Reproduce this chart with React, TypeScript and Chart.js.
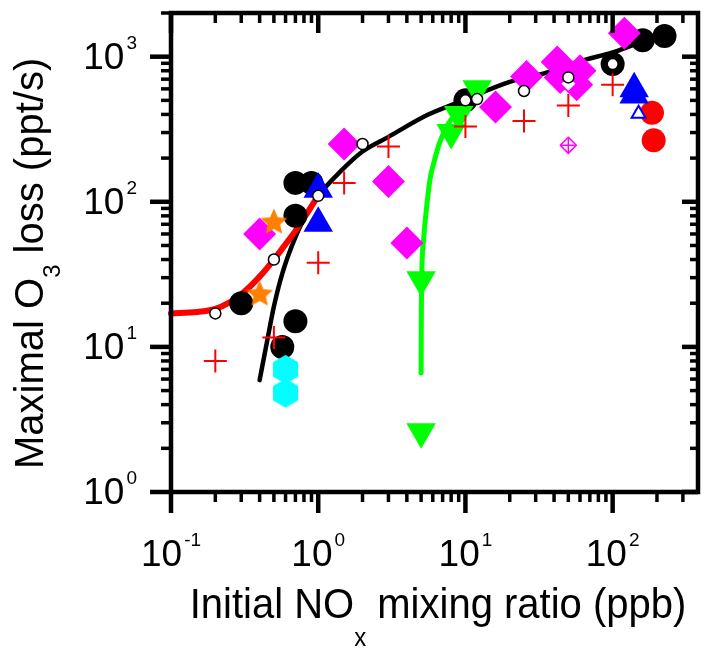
import React, { useEffect, useRef } from "react";
import { Chart, registerables } from "chart.js";

Chart.register(...registerables);

// ---------- axes ----------
const xRange = [0.1, 380];
const yRange = [1, 2000];
const xMajorTicks = [0.1, 1, 10, 100];
const xTickExponents = ["-1", "0", "1", "2"];
const yMajorTicks = [1, 10, 100, 1000];
const yTickExponents = ["0", "1", "2", "3"];
const minorMultipliers = [2, 3, 4, 5, 6, 7, 8, 9];

// ---------- marker series ----------
const blackCircleX = [0.3, 0.57, 0.7, 0.7, 0.7, 0.9, 10, 50, 100, 160, 225];
const blackCircleY = [20, 10, 15, 80, 135, 135, 500, 710, 890, 1300, 1390];

const whiteCircleX = [0.2, 0.5, 1, 2, 10, 12, 25, 50, 100];
const whiteCircleY = [17, 40, 110, 250, 500, 510, 580, 720, 890];

const redPlusX = [0.2, 0.5, 1, 1.5, 3, 10, 25, 50, 100];
const redPlusY = [8, 11.6, 38, 135, 240, 330, 360, 460, 640];

const magentaDiamondX = [0.4, 1.5, 3, 4, 16, 26, 42, 44, 57, 60, 120];
const magentaDiamondY = [60, 250, 138, 52, 450, 730, 920, 720, 640, 800, 1450];

const crossDiamondX = [50];
const crossDiamondY = [245];
const openDiamondX = [50];
const openDiamondY = [650];

const blueTriangleX = [1, 1, 140, 140];
const blueTriangleY = [122, 71, 600, 545];
const openBlueTriangleX = [150];
const openBlueTriangleY = [405];

const redCircleX = [185, 190];
const redCircleY = [410, 265];

const orangeStarX = [0.5, 0.4];
const orangeStarY = [72, 23];

const cyanHexX = [0.6, 0.6];
const cyanHexY = [7, 4.8];

const greenTriangleX = [5, 5, 8, 9, 12];
const greenTriangleY = [2.6, 29, 300, 400, 600];

// ---------- curves ----------
const blackLineX = [0.4, 0.45, 0.5, 0.57, 0.7, 0.85, 1, 1.4, 2, 3, 5.5, 9.2, 20, 36, 60, 100, 150, 220];
const blackLineY = [5.9, 11, 19, 32, 57, 85, 110, 160, 222, 280, 396, 490, 670, 780, 930, 1070, 1240, 1390];

const redLineX = [0.1, 0.15, 0.2, 0.25, 0.3, 0.4, 0.5, 0.6, 0.7, 0.85, 1];
const redLineY = [17, 17.4, 18.3, 20.3, 23, 30.5, 40, 51, 63, 85, 110];

const greenLineX = [5, 5.01, 5.05, 5.2, 5.5, 5.76, 6.05, 6.7, 8, 10.2, 11.9];
const greenLineY = [6.6, 13, 30, 55, 100, 145, 180, 258, 370, 450, 515];

const FONT = '"Liberation Sans", Arial, Helvetica, sans-serif';

function pts(xs: number[], ys: number[]) {
  return xs.map((x, i) => ({ x, y: ys[i] }));
}

function makeStar(outer: number, inner: number, color: string) {
  const size = Math.ceil(outer * 2 + 2);
  const c = document.createElement("canvas");
  c.width = size;
  c.height = size;
  const g = c.getContext("2d")!;
  g.translate(size / 2, size / 2);
  g.beginPath();
  for (let i = 0; i < 10; i++) {
    const r = i % 2 === 0 ? outer : inner;
    const a = -Math.PI / 2 + (i * Math.PI) / 5;
    const px = Math.cos(a) * r;
    const py = Math.sin(a) * r;
    if (i === 0) g.moveTo(px, py);
    else g.lineTo(px, py);
  }
  g.closePath();
  g.fillStyle = color;
  g.fill();
  return c;
}

function makeHexagon(r: number, color: string) {
  const w = Math.ceil(r * 2 + 2);
  const c = document.createElement("canvas");
  c.width = w;
  c.height = w;
  const g = c.getContext("2d")!;
  g.translate(w / 2, w / 2);
  g.beginPath();
  for (let i = 0; i < 6; i++) {
    const a = -Math.PI / 2 + (i * Math.PI) / 3;
    const px = Math.cos(a) * r;
    const py = Math.sin(a) * r;
    if (i === 0) g.moveTo(px, py);
    else g.lineTo(px, py);
  }
  g.closePath();
  g.fillStyle = color;
  g.fill();
  return c;
}

type Part = { t: string; s: number; dy: number };

function richWidth(ctx: CanvasRenderingContext2D, parts: Part[]) {
  let w = 0;
  for (const p of parts) {
    ctx.font = `${p.s}px ${FONT}`;
    w += ctx.measureText(p.t).width;
  }
  return w;
}

function drawRich(ctx: CanvasRenderingContext2D, parts: Part[], x: number, y: number) {
  let cx = x;
  ctx.textAlign = "left";
  ctx.textBaseline = "alphabetic";
  for (const p of parts) {
    ctx.font = `${p.s}px ${FONT}`;
    ctx.fillText(p.t, cx, y + p.dy);
    cx += ctx.measureText(p.t).width;
  }
}

function powParts(exp: string): Part[] {
  return [
    { t: "10", s: 37, dy: 0 },
    { t: "\u2009", s: 10, dy: 0 },
    { t: exp, s: 19, dy: -20 },
  ];
}

const axesPlugin = {
  id: "axesFrame",
  afterDatasetsDraw(chart: any) {
    const ctx: CanvasRenderingContext2D = chart.ctx;
    const xs = chart.scales.x;
    const ys = chart.scales.y;
    const { left, right, top, bottom } = chart.chartArea;
    ctx.save();
    ctx.strokeStyle = "#000";
    ctx.fillStyle = "#000";
    ctx.lineCap = "butt";

    const seg = (x1: number, y1: number, x2: number, y2: number, w: number) => {
      ctx.lineWidth = w;
      ctx.beginPath();
      ctx.moveTo(x1, y1);
      ctx.lineTo(x2, y2);
      ctx.stroke();
    };

    // y ticks
    for (const v of yMajorTicks) {
      const p = ys.getPixelForValue(v);
      seg(left - 21, p, left, p, 4.5);
      seg(right - 16, p, right, p, 4.5);
      for (const m of minorMultipliers) {
        const mv = v * m;
        if (mv > yRange[1] + 1e-9) continue;
        const mp = ys.getPixelForValue(mv);
        seg(left - 10, mp, left, mp, 3.5);
        seg(right - 8, mp, right, mp, 3.5);
      }
    }
    // x ticks
    for (const v of xMajorTicks) {
      const p = xs.getPixelForValue(v);
      seg(p, bottom, p, bottom + 21, 4.5);
      seg(p, top, p, top + 20, 4.5);
      for (const m of minorMultipliers) {
        const mv = v * m;
        if (mv > xRange[1]) continue;
        const mp = xs.getPixelForValue(mv);
        seg(mp, bottom, mp, bottom + 10, 3.5);
        seg(mp, top, mp, top + 10, 3.5);
      }
    }
    // frame
    ctx.lineWidth = 4.5;
    ctx.lineJoin = "miter";
    ctx.strokeRect(left, top, right - left, bottom - top);

    // y tick labels
    yMajorTicks.forEach((v, i) => {
      const p = ys.getPixelForValue(v);
      const parts = powParts(yTickExponents[i]);
      const w = richWidth(ctx, parts);
      drawRich(ctx, parts, left - 34 - w, p + 12);
    });
    // x tick labels
    xMajorTicks.forEach((v, i) => {
      const p = xs.getPixelForValue(v);
      const parts = powParts(xTickExponents[i]);
      const w = richWidth(ctx, parts);
      drawRich(ctx, parts, p - w / 2, 566);
    });

    // x title
    const xt: Part[] = [
      { t: "Initial NO", s: 40, dy: 0 },
      { t: "x", s: 24, dy: 27 },
      { t: " mixing ratio (ppb)", s: 40, dy: 0 },
    ];
    const xw = richWidth(ctx, xt);
    ctx.save();
    ctx.translate(438 - xw / 2, 618);
    ctx.scale(1, 1.05);
    drawRich(ctx, xt, 0, 0);
    ctx.restore();

    // y title
    const yt: Part[] = [
      { t: "Maximal O", s: 40, dy: 0 },
      { t: "3", s: 24, dy: 17 },
      { t: " loss (ppt/s)", s: 40, dy: 0 },
    ];
    ctx.save();
    ctx.translate(43, 469);
    ctx.rotate(-Math.PI / 2);
    drawRich(ctx, yt, 0, 0);
    ctx.restore();

    ctx.restore();
  },
};

export default function App() {
  const ref = useRef<HTMLCanvasElement | null>(null);

  useEffect(() => {
    document.body.style.margin = "0";
    const canvas = ref.current;
    if (!canvas) return;

    const star = makeStar(14, 6.5, "#FF8000");
    const hex = makeHexagon(14.5, "#00FFFF");

    const scatter = (data: any, style: any) => ({
      type: "scatter",
      data,
      showLine: false,
      clip: false,
      ...style,
    });
    const line = (data: any, color: string, width: number) => ({
      type: "scatter",
      data,
      showLine: true,
      clip: false,
      pointRadius: 0,
      borderColor: color,
      backgroundColor: color,
      borderWidth: width,
      borderCapStyle: "round",
      borderJoinStyle: "round",
      cubicInterpolationMode: "monotone",
      fill: false,
    });

    const datasets: any[] = [
      scatter(pts(whiteCircleX, whiteCircleY), {
        pointStyle: "circle",
        pointRadius: 5.5,
        backgroundColor: "#FFFFFF",
        borderColor: "#000000",
        borderWidth: 1.5,
      }),
      scatter(pts(openDiamondX, openDiamondY), {
        pointStyle: "rectRot",
        pointRadius: 8,
        backgroundColor: "#FFFFFF",
        borderColor: "#FF00FF",
        borderWidth: 1.5,
      }),
      scatter(pts(crossDiamondX, crossDiamondY), {
        pointStyle: "cross",
        pointRadius: 7.5,
        borderColor: "#FF00FF",
        borderWidth: 1.5,
      }),
      scatter(pts(crossDiamondX, crossDiamondY), {
        pointStyle: "rectRot",
        pointRadius: 8,
        backgroundColor: "#FFFFFF",
        borderColor: "#FF00FF",
        borderWidth: 1.5,
      }),
      scatter(pts(redPlusX, redPlusY), {
        pointStyle: "cross",
        pointRadius: 11.5,
        borderColor: "#FF0000",
        borderWidth: 2,
      }),
      scatter(pts(orangeStarX, orangeStarY), {
        pointStyle: star,
        pointRadius: 14,
      }),
      scatter(pts(openBlueTriangleX, openBlueTriangleY), {
        pointStyle: "triangle",
        pointRadius: 8,
        backgroundColor: "#FFFFFF",
        borderColor: "#0000FF",
        borderWidth: 2,
      }),
      scatter(pts(blueTriangleX, blueTriangleY), {
        pointStyle: "triangle",
        pointRadius: 17,
        backgroundColor: "#0000FF",
        borderWidth: 0,
      }),
      scatter(pts(redCircleX, redCircleY), {
        pointStyle: "circle",
        pointRadius: 12,
        backgroundColor: "#FF0000",
        borderWidth: 0,
      }),
      scatter(pts(cyanHexX, cyanHexY), {
        pointStyle: hex,
        pointRadius: 14,
      }),
      scatter(pts(magentaDiamondX, magentaDiamondY), {
        pointStyle: "rectRot",
        pointRadius: 16.5,
        backgroundColor: "#FF00FF",
        borderWidth: 0,
      }),
      scatter(pts(greenTriangleX, greenTriangleY), {
        pointStyle: "triangle",
        rotation: 180,
        pointRadius: 17,
        backgroundColor: "#00FF00",
        borderWidth: 0,
      }),
      scatter(pts(blackCircleX, blackCircleY), {
        pointStyle: "circle",
        pointRadius: 12,
        backgroundColor: "#000000",
        borderWidth: 0,
      }),
      line(pts(greenLineX, greenLineY), "#00FF00", 5),
      line(pts(redLineX, redLineY), "#FF0000", 6),
      line(pts(blackLineX, blackLineY), "#000000", 4.5),
    ];

    const chart = new Chart(canvas, {
      type: "scatter",
      data: { datasets },
      options: {
        responsive: false,
        animation: false,
        devicePixelRatio: 1,
        layout: {
          autoPadding: false,
          padding: { left: 171, top: 13, right: 7, bottom: 158 },
        },
        scales: {
          x: { type: "logarithmic", min: xRange[0], max: xRange[1], display: false },
          y: { type: "logarithmic", min: yRange[0], max: yRange[1], display: false },
        },
        plugins: { legend: { display: false }, tooltip: { enabled: false } },
        elements: { point: { hoverRadius: 0 } },
      },
      plugins: [axesPlugin],
    } as any);

    return () => chart.destroy();
  }, []);

  return (
    <div style={{ width: 705, height: 650, background: "#fff" }}>
      <canvas ref={ref} width={705} height={650} style={{ display: "block" }} />
    </div>
  );
}
